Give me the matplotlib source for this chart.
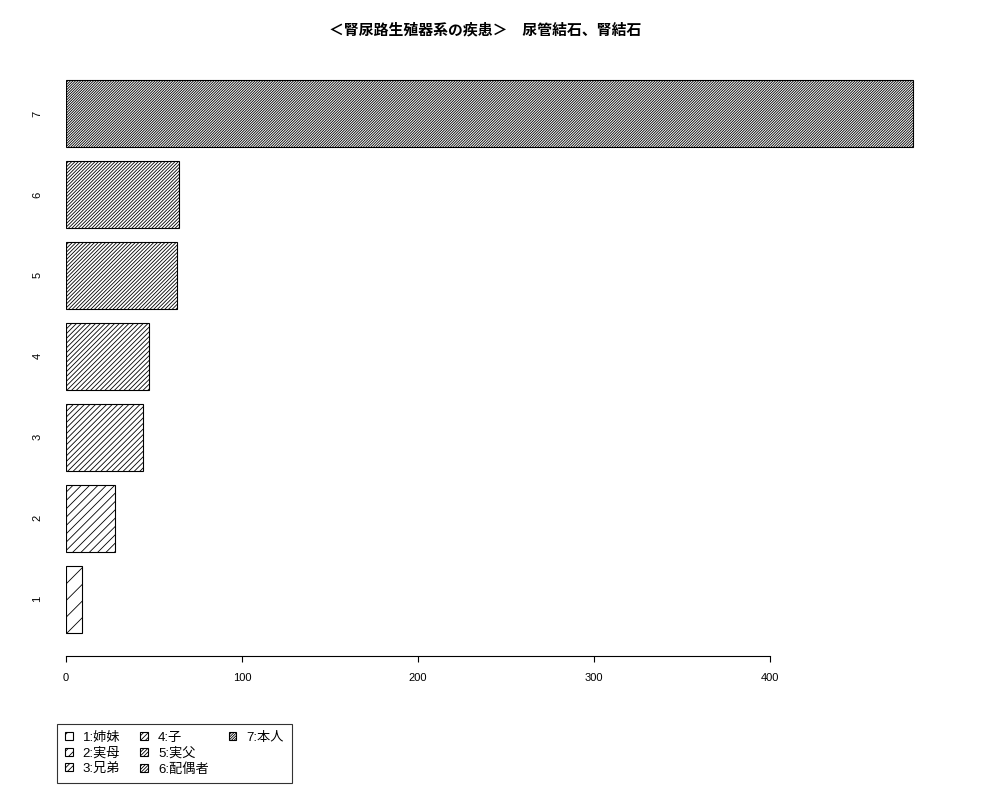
import matplotlib
matplotlib.use("Agg")
import matplotlib.pyplot as plt
from matplotlib.patches import Patch

# data
categories = ['1', '2', '3', '4', '5', '6', '7']
legend_labels = ['1:姉妹', '2:実母', '3:兄弟', '4:子', '5:実父', '6:配偶者', '7:本人']
values = [9, 28, 44, 47, 63, 64, 481]
hatch_counts = [2, 4, 6, 7, 9, 10, 13]   # hatching gets denser per group
x_ticks = [0, 100, 200, 300, 400]
title = '＜腎尿路生殖器系の疾患＞　尿管結石、腎結石'

plt.rcParams['font.family'] = ['Liberation Sans', 'Noto Sans CJK JP', 'DejaVu Sans']
plt.rcParams['hatch.linewidth'] = 0.6

fig = plt.figure(figsize=(10, 8), dpi=100)
ax = fig.add_axes([0.066, 0.18, 0.88, 0.749])

positions = list(range(1, len(values) + 1))
bars = ax.barh(positions, values, height=0.827, color='white',
               edgecolor='black', linewidth=0.8)
for i, b in enumerate(bars):
    b.set_hatch('/' * hatch_counts[i])
    b.set_label(legend_labels[i])

ax.set_xlim(0, 500)
ax.set_ylim(0.3, 7.7)

for side in ['top', 'right', 'left']:
    ax.spines[side].set_visible(False)
ax.spines['bottom'].set_bounds(0, 400)
ax.spines['bottom'].set_linewidth(0.8)

ax.set_xticks(x_ticks)
ax.set_xticklabels([str(t) for t in x_ticks], fontsize=8)
ax.tick_params(axis='x', length=4.5, width=0.8, pad=8)

ax.set_yticks(positions)
ax.set_yticklabels(categories, fontsize=8, rotation=90, va='center')
ax.tick_params(axis='y', length=0, pad=17)

fig.text(0.485, 0.962, title, ha='center', va='center', fontsize=10.7,
         fontweight='bold')

# pad with two blank entries so the columns fill 3, 3, 1 like the original
blank = Patch(visible=False, label='')
handles = list(bars) + [blank, blank]
leg = fig.legend(handles=handles, loc='upper left', ncol=3,
                 bbox_to_anchor=(0.057, 0.095), fontsize=9.5, frameon=True,
                 fancybox=False, edgecolor='black', handlelength=0.6,
                 handleheight=0.55, handletextpad=0.75, columnspacing=1.5,
                 labelspacing=0.25, borderpad=0.6, borderaxespad=0)
leg.get_frame().set_linewidth(0.8)

fig.savefig('out.png', dpi=100)
